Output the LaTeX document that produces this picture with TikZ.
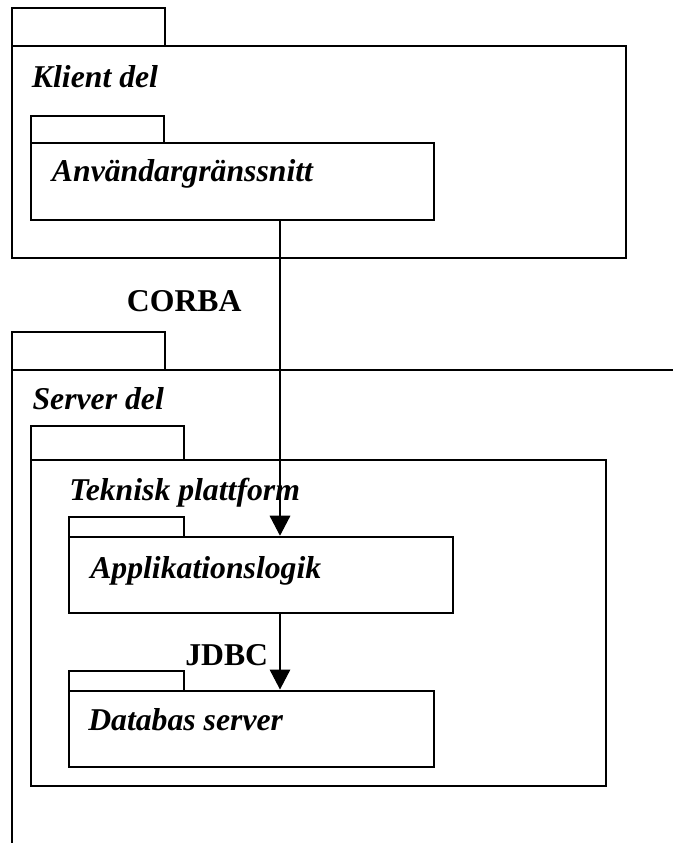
\documentclass[tikz,border=0pt]{standalone}
\usepackage{fontspec}
\setmainfont{Liberation Serif}
\usetikzlibrary{arrows.meta,fit}

\tikzset{
  pkgbox/.style={draw=black, line width=1.5pt, inner sep=0pt},
  pkgtab/.style={draw=black, line width=1.5pt, inner sep=0pt},
  pkgname/.style={anchor=base west, inner sep=0pt, font=\fontsize{23.8pt}{28pt}\selectfont\bfseries\itshape},
  linkname/.style={anchor=base west, inner sep=0pt, font=\fontsize{23.8pt}{28pt}\selectfont\bfseries},
  dep/.style={draw=black, line width=0.8pt, -{Triangle[length=15pt,width=15.5pt]}}
}

\begin{document}
\begin{tikzpicture}[x=0.75pt, y=-0.75pt]
\useasboundingbox (0,0) rectangle (673,843);

% Klient del
\node[pkgtab, fit={(11.7,8.3) (164.7,46.3)}] (klienttab) {};
\node[pkgbox, fit={(11.7,46.3) (626,258.3)}] (klient) {};
\node[pkgname] (klientlbl) at (31.7,87.3) {Klient del};

% Användargränssnitt
\node[pkgtab, fit={(30.7,115.7) (164.3,143)}] (uitab) {};
\node[pkgbox, fit={(30.7,143) (434,220)}] (ui) {};
\node[pkgname] (uilbl) at (51.7,181.7) {Användargränssnitt};

% CORBA label
\node[linkname] (corba) at (126.7,311) {CORBA};

% Server del (open towards the right and bottom)
\node[pkgtab, fit={(11.7,332) (164.7,370)}] (servertab) {};
\coordinate (srvright) at (673,370);
\coordinate (srvbottom) at (11.7,845);
\draw[line width=1.5pt] (srvright) -- (srvright -| srvbottom) -- (srvbottom);
\node[pkgname] (serverlbl) at (32.3,409.3) {Server del};

% Teknisk plattform
\node[pkgtab, fit={(30.7,426) (184,460)}] (teknisktab) {};
\node[pkgbox, fit={(30.7,460) (606,785.7)}] (teknisk) {};
\node[pkgname] (tekniskjlbl) at (69,500) {Teknisk plattform};

% Applikationslogik
\node[pkgtab, fit={(69,517.3) (184,536.7)}] (apptab) {};
\node[pkgbox, fit={(69,536.7) (453.3,613.3)}] (app) {};
\node[pkgname] (applbl) at (90,578) {Applikationslogik};

% Databas server
\node[pkgtab, fit={(69,671) (184,690.5)}] (dbtab) {};
\node[pkgbox, fit={(69,690.5) (434,766.7)}] (db) {};
\node[pkgname] (dblbl) at (88,730) {Databas server};

% JDBC label
\node[linkname] (jdbc) at (185,665) {JDBC};

% Dependencies
\coordinate (depx) at (280,0);
\draw[dep] (depx |- ui.south) -- (depx |- app.north);
\draw[dep] (depx |- app.south) -- (depx |- db.north);
\end{tikzpicture}
\end{document}
